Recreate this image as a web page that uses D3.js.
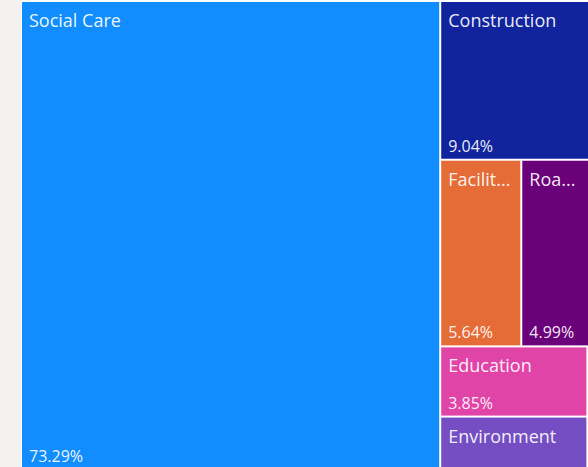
<!DOCTYPE html>
<html>
<head>
<meta charset="utf-8">
<script src="https://cdn.jsdelivr.net/npm/d3@7"></script>
<style>
  html, body { margin: 0; padding: 0; background: #F3F2F1; }
  svg { display: block; }
  text { font-family: "Segoe UI", "Open Sans", "Noto Sans", sans-serif; }
</style>
</head>
<body>
<svg id="chart" width="588" height="467"></svg>
<script>
// Data (share of total, %)
const categories = ["Social Care", "Construction", "Facilities", "Roads", "Education", "Environment", "Other"];
const shares     = [73.29, 9.04, 5.64, 4.99, 3.85, 2.93, 0.26];
const colors     = ["#118DFF", "#12239E", "#E66C37", "#6B007B", "#E044A7", "#744EC2", "#D9B300"];

const W = 588, H = 467;
const OX = 22, OY = 2;
const svg = d3.select("#chart");

// white visual background
svg.append("rect").attr("x", 21).attr("y", 0).attr("width", W - 21).attr("height", H).attr("fill", "#ffffff");

const root = d3.hierarchy({
  children: categories.map((c, i) => ({ name: c, value: shares[i], color: colors[i] }))
}).sum(d => d.value || 0).sort((a, b) => b.value - a.value);

const total = root.value;

d3.treemap()
  .tile(d3.treemapSquarify)
  .size([570, 467])
  .paddingInner(2)
  .round(false)(root);

const fmt = d3.format(".2f");

const plot = svg.append("g").attr("transform", `translate(${OX},${OY})`);

const cell = plot.selectAll("g.cell")
  .data(root.leaves())
  .join("g")
  .attr("class", "cell")
  .attr("transform", d => `translate(${d.x0},${d.y0})`);

cell.append("rect")
  .attr("width", d => Math.max(0, d.x1 - d.x0))
  .attr("height", d => Math.max(0, d.y1 - d.y0))
  .attr("fill", d => d.data.color);

function fitText(sel, maxW) {
  sel.each(function() {
    const t = d3.select(this);
    const full = t.text();
    if (this.getComputedTextLength() <= maxW) return;
    let n = full.length;
    while (n > 0) {
      t.text(full.slice(0, n) + "...");
      if (this.getComputedTextLength() <= maxW) return;
      n--;
    }
    t.text("");
  });
}

const PAD_L = 7, PAD_R = 9.7;
cell.each(function(d) {
  const g = d3.select(this);
  const w = d.x1 - d.x0, h = d.y1 - d.y0;
  const visW = Math.min(w, W - OX - d.x0);
  if (w < 30 || h < 30) return;
  const name = g.append("text")
    .attr("x", PAD_L).attr("y", 25)
    .attr("fill", "#ffffff").attr("fill-opacity", 0.93)
    .attr("font-size", "18px")
    .text(d.data.name);
  fitText(name, visW - PAD_L - PAD_R);
  if (h > 60) {
    const pct = g.append("text")
      .attr("x", PAD_L).attr("y", h - 7)
      .attr("fill", "#ffffff").attr("fill-opacity", 0.93)
      .attr("font-size", "16px")
      .text(fmt(d.value / total * 100) + "%");
    fitText(pct, visW - PAD_L - PAD_R);
  }
});
</script>
</body>
</html>
